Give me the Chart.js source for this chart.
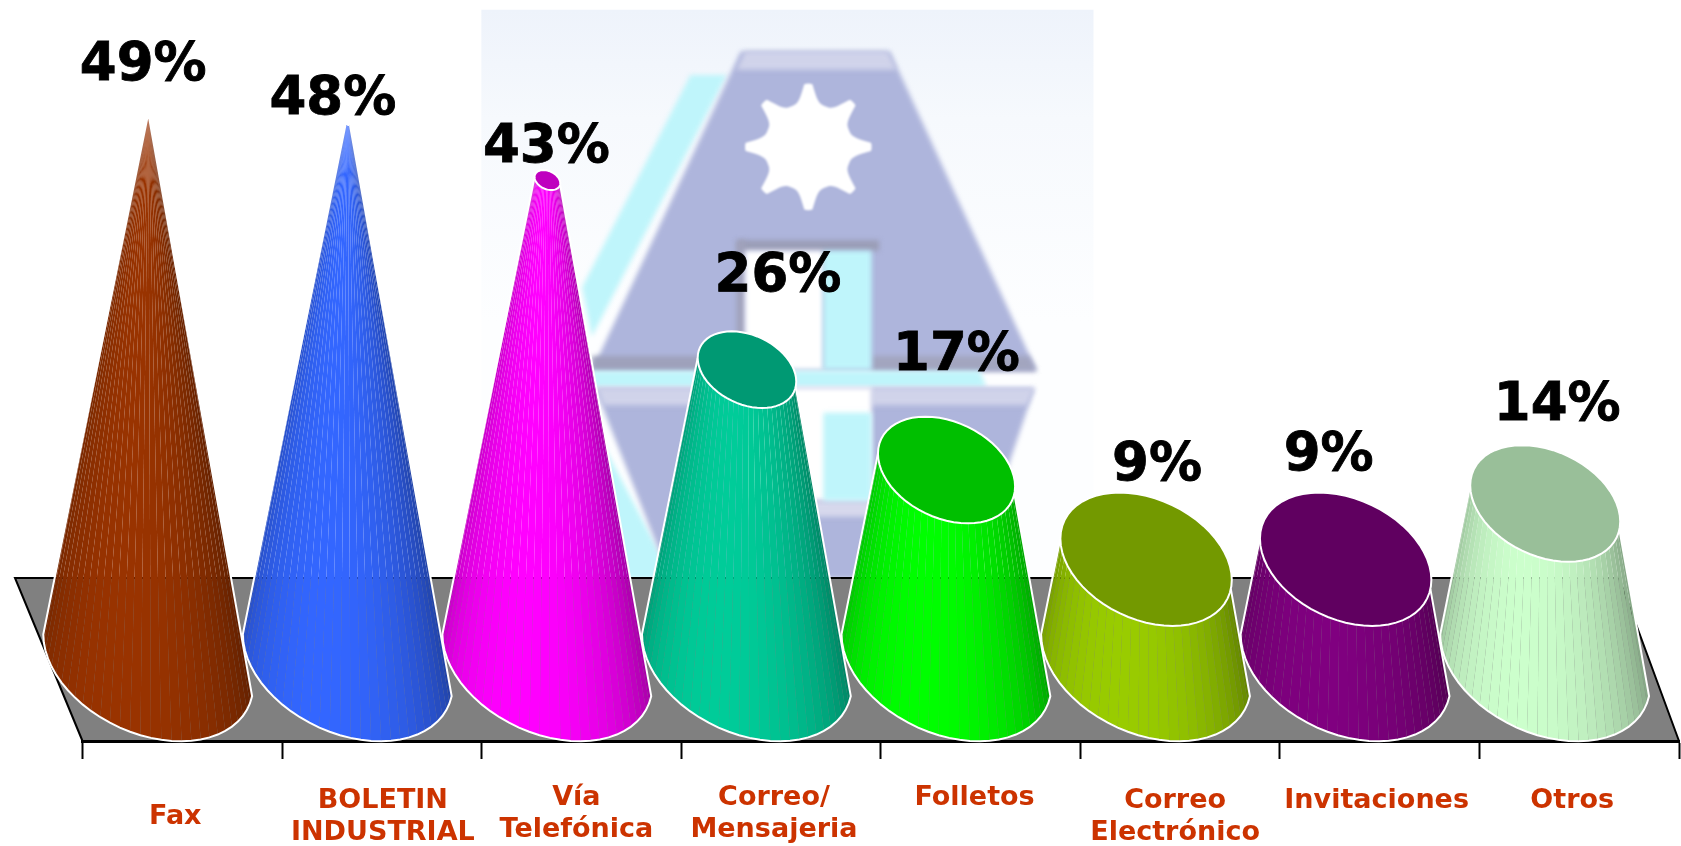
<!DOCTYPE html>
<html>
<head>
<meta charset="utf-8">
<style>
  html, body { margin: 0; padding: 0; background: #fff; }
  canvas { display: block; }
</style>
<script src="https://cdn.jsdelivr.net/npm/chart.js@4"></script>
</head>
<body>
<canvas id="chart-cones" width="1681" height="846"></canvas>
<script>
const categories = [
    ['Fax'],
    ['BOLETIN', 'INDUSTRIAL'],
    ['Vía', 'Telefónica'],
    ['Correo/', 'Mensajeria'],
    ['Folletos'],
    ['Correo', 'Electrónico'],
    ['Invitaciones'],
    ['Otros']
];
const percents = [49, 48, 43, 26, 17, 9, 9, 14];

const coneColors = ['#993300', '#3366FF', '#FF00FF', '#00CC99', '#00FF00', '#99CC00', '#800080', '#CCFFCC'];

// hand placed nudges, the original has its labels moved about by hand
const valueNudgeX = [-5, -15, -1, 31, 10, 11, -17, 12];
const valueNudgeY = [-33, -10, -18, -79, -100, -79, -89, -83];
const labelNudgeX = [-7, 1, -5, -7, -6, -5, -3, -7];
const labelNudgeY = [76, 60, 57, 57, 57, 60, 60, 60];

const CONE_SHIFT = 34;
const STRIPS = 30;
const RIM_START = 0.15;
const S = 1681 / 1568;

function shade(hex, f) {
    const n = parseInt(hex.slice(1), 16);
    const r = Math.round(((n >> 16) & 255) * f);
    const g = Math.round(((n >> 8) & 255) * f);
    const b = Math.round((n & 255) * f);
    return `rgb(${r},${g},${b})`;
}

function poly(ctx, pts, fill) {
    ctx.beginPath();
    pts.forEach((p, i) => i ? ctx.lineTo(p[0] * S, p[1] * S) : ctx.moveTo(p[0] * S, p[1] * S));
    ctx.closePath();
    ctx.fillStyle = fill;
    ctx.fill();
}

// logo behind the chart
function drawLogo(ctx) {
    ctx.save();
    const bg = ctx.createLinearGradient(0, 9 * S, 0, 300 * S);
    bg.addColorStop(0, '#eef3fb');
    bg.addColorStop(0.35, '#f6f9fd');
    bg.addColorStop(1, '#fdfeff');
    poly(ctx, [[449, 9], [1020, 9], [1020, 545], [449, 545]], bg);

    ctx.filter = 'blur(2.5px)';
    const lav = '#aeb5dc';
    const cyan = '#bff5fb';
    poly(ctx, [[644, 70], [678, 70], [552, 314], [543, 268]], cyan);
    poly(ctx, [[555, 400], [628, 540], [540, 540]], cyan);
    poly(ctx, [[691, 48], [830, 48], [967, 346], [552, 346]], lav);
    poly(ctx, [[695, 48], [828, 48], [836, 65], [687, 65]], '#d0d3ea');
    poly(ctx, [[552, 332], [695, 332], [695, 346], [552, 346]], '#9ea1bb');
    poly(ctx, [[813, 332], [960, 332], [967, 346], [813, 346]], '#a2a5bf');
    poly(ctx, [[688, 224], [820, 224], [820, 234], [688, 234]], '#9a9db6');
    poly(ctx, [[687, 224], [695, 224], [695, 340], [687, 340]], '#a0a2bb');
    poly(ctx, [[695, 234], [768, 234], [768, 345], [695, 345]], '#ffffff');
    poly(ctx, [[768, 234], [813, 234], [813, 345], [768, 345]], cyan);
    poly(ctx, [[552, 346], [914, 346], [920, 361], [552, 361]], cyan);
    poly(ctx, [[555, 362], [965, 362], [905, 540], [625, 540]], lav);
    poly(ctx, [[557, 362], [695, 362], [695, 378], [563, 378]], '#d0d3ea');
    poly(ctx, [[813, 362], [965, 362], [958, 378], [813, 378]], '#d0d3ea');
    poly(ctx, [[695, 362], [813, 362], [813, 467], [695, 467]], '#ffffff');
    poly(ctx, [[695, 467], [813, 467], [813, 482], [695, 482]], '#d6d8ec');
    poly(ctx, [[768, 385], [813, 385], [813, 467], [768, 467]], cyan);

    // gear, eight teeth with scalloped notches
    ctx.filter = 'blur(1px)';
    const gear = [];
    for (let i = 0; i < 192; i++) {
        const a = i / 192 * Math.PI * 2;
        const m = ((a / (Math.PI / 4)) % 1 + 1) % 1;
        const d = Math.min(m, 1 - m);
        const r = d < 0.08 ? 59 : 41 + 18 * Math.pow((0.5 - d) / 0.42, 3);
        gear.push([754 + Math.cos(a) * r, 137 + Math.sin(a) * r]);
    }
    poly(ctx, gear, '#ffffff');
    ctx.restore();
}

function drawFloor(ctx, area) {
    const backY = 578;
    const pts = [[area.left - 67.5, backY], [area.right - 60, backY], [area.right, area.bottom], [area.left, area.bottom]];
    ctx.save();
    ctx.beginPath();
    pts.forEach((p, i) => i ? ctx.lineTo(p[0], p[1]) : ctx.moveTo(p[0], p[1]));
    ctx.closePath();
    ctx.fillStyle = '#808080';
    ctx.fill();
    ctx.beginPath();
    ctx.moveTo(pts[3][0], pts[3][1]);
    ctx.lineTo(pts[0][0], pts[0][1]);
    ctx.lineTo(pts[1][0], pts[1][1]);
    ctx.lineTo(pts[2][0], pts[2][1]);
    ctx.strokeStyle = '#000';
    ctx.lineWidth = 2;
    ctx.stroke();
    ctx.restore();
}

function drawCone(ctx, bar, value, maxValue, color) {
    const cx = bar.x - CONE_SHIFT;
    const baseA = bar.width / 2;
    const topA = baseA * (1 - value / maxValue);
    const ring = (a, cy, t) => [
        cx + a * Math.cos(t),
        cy + a * 0.74 * Math.sin(t) + a * 0.24 * Math.cos(t)
    ];
    const stripAngle = i => RIM_START + (Math.PI - RIM_START) * i / STRIPS;

    ctx.save();
    for (let i = 0; i < STRIPS; i++) {
        const t0 = stripAngle(i);
        const t1 = stripAngle(i + 1);
        const a = ring(baseA, bar.base, t0);
        const b = ring(baseA, bar.base, t1);
        const c = ring(topA, bar.y, t1);
        const d = ring(topA, bar.y, t0);
        const mid = (t0 + t1) / 2;
        const f = 0.68 + 0.32 * Math.cos(mid - Math.PI * 0.58);
        ctx.beginPath();
        ctx.moveTo(a[0], a[1]);
        ctx.lineTo(b[0], b[1]);
        ctx.lineTo(c[0], c[1]);
        ctx.lineTo(d[0], d[1]);
        ctx.closePath();
        ctx.fillStyle = shade(color, f);
        ctx.fill();
    }

    // white outline, bottom rim and both sides
    ctx.strokeStyle = '#fff';
    ctx.lineWidth = 2;
    ctx.beginPath();
    let p = ring(topA, bar.y, RIM_START);
    ctx.moveTo(p[0], p[1]);
    for (let i = 0; i <= STRIPS; i++) {
        p = ring(baseA, bar.base, stripAngle(i));
        ctx.lineTo(p[0], p[1]);
    }
    p = ring(topA, bar.y, Math.PI);
    ctx.lineTo(p[0], p[1]);
    ctx.stroke();

    // top of the cut cone
    if (topA > 3) {
        ctx.beginPath();
        for (let i = 0; i < STRIPS * 2; i++) {
            p = ring(topA, bar.y, Math.PI * i / STRIPS);
            i ? ctx.lineTo(p[0], p[1]) : ctx.moveTo(p[0], p[1]);
        }
        ctx.closePath();
        ctx.fillStyle = shade(color, 0.75);
        ctx.fill();
        ctx.stroke();
    }
    ctx.restore();
}

const conePlugin = {
    id: 'cones',
    beforeDraw(chart) {
        drawLogo(chart.ctx);
        drawFloor(chart.ctx, chart.chartArea);
    },
    beforeDatasetDraw(chart, args) {
        const bars = chart.getDatasetMeta(args.index).data;
        const maxValue = Math.max(...percents);
        // right to left, the left cones sit on top
        for (let i = bars.length - 1; i >= 0; i--) {
            drawCone(chart.ctx, bars[i], percents[i], maxValue, coneColors[i]);
        }
        return false;
    },
    afterDraw(chart) {
        const ctx = chart.ctx;
        const bars = chart.getDatasetMeta(0).data;
        const bottom = chart.chartArea.bottom;
        ctx.save();
        ctx.textAlign = 'center';

        ctx.fillStyle = '#000';
        ctx.strokeStyle = '#000';
        ctx.lineWidth = 0.8;
        ctx.font = 'bold 53px "DejaVu Sans"';
        ctx.textBaseline = 'alphabetic';
        percents.forEach((v, i) => {
            const x = bars[i].x - CONE_SHIFT + valueNudgeX[i];
            ctx.fillText(v + '%', x, bars[i].y + valueNudgeY[i]);
            ctx.strokeText(v + '%', x, bars[i].y + valueNudgeY[i]);
        });

        ctx.fillStyle = '#CC3300';
        ctx.font = 'bold 27px "DejaVu Sans"';
        ctx.textBaseline = 'middle';
        categories.forEach((lines, i) => {
            const x = chart.scales.x.getPixelForValue(i) + labelNudgeX[i];
            lines.forEach((line, j) => {
                ctx.fillText(line, x, bottom + labelNudgeY[i] + j * 32);
            });
        });
        ctx.restore();
    }
};

new Chart(document.getElementById('chart-cones').getContext('2d'), {
    type: 'bar',
    data: {
        labels: categories,
        datasets: [{ label: 'Medios', data: percents, backgroundColor: coneColors, barThickness: 210 }]
    },
    options: {
        responsive: false,
        animation: false,
        layout: { padding: { left: 82.5, right: 2, top: 0, bottom: 0 } },
        plugins: { legend: { display: false }, tooltip: { enabled: false } },
        scales: {
            y: { display: false, min: -7.3, max: 59.15 },
            x: {
                afterFit(scale) { scale.height = 105; },
                ticks: { display: false },
                border: { color: '#000', width: 3 },
                grid: { drawOnChartArea: false, tickLength: 18, tickColor: '#000', tickWidth: 2 }
            }
        }
    },
    plugins: [conePlugin]
});
</script>
</body>
</html>
